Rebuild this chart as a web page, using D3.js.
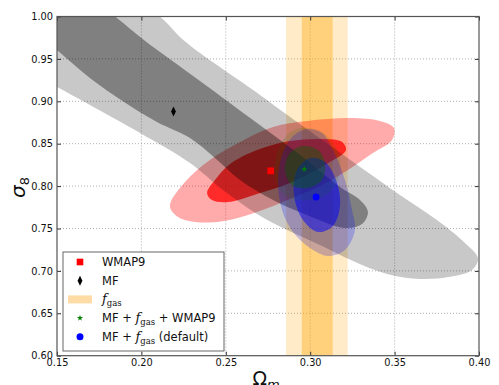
<!DOCTYPE html>
<html>
<head>
<meta charset="utf-8">
<script src="https://cdn.jsdelivr.net/npm/d3@7"></script>
<style>
body { margin: 0; background: #fff; }
text { font-family: "DejaVu Sans", sans-serif; }
</style>
</head>
<body>
<script>
// axis ticks
var xTicks = [0.15, 0.20, 0.25, 0.30, 0.35, 0.40];
var yTicks = [0.60, 0.65, 0.70, 0.75, 0.80, 0.85, 0.90, 0.95, 1.00];

// best fit points [Omega_m, sigma_8]
var wmapBest = [0.2766, 0.818];
var mfBest = [0.219, 0.888];
var comboBest = [0.2965, 0.820];
var defaultBest = [0.3035, 0.787];

// f_gas constraint on Omega_m
var fgas1 = [0.295, 0.3133];
var fgas2 = [0.2857, 0.3222];

// contour outlines [Omega_m, sigma_8]
var mfOuter = [[0.100, 1.170], [0.150, 1.088], [0.211, 1.000], [0.225, 0.972], [0.2685, 0.910], [0.2863, 0.884],
    [0.3236, 0.831], [0.3514, 0.792], [0.3751, 0.760], [0.3917, 0.733], [0.3994, 0.715], [0.3959, 0.701],
    [0.3828, 0.693], [0.3650, 0.6905], [0.3455, 0.6964], [0.3254, 0.7117], [0.3058, 0.7306], [0.2863, 0.7483],
    [0.2685, 0.7671], [0.2483, 0.7954], [0.2288, 0.8272], [0.1992, 0.8626], [0.1695, 0.8956], [0.150, 0.9169],
    [0.122, 0.9463], [0.090, 0.990]];
var mfInner = [[0.100, 1.120], [0.128, 1.084], [0.1844, 1.000], [0.2015, 0.9723], [0.2347, 0.924], [0.2685, 0.8744],
    [0.2940, 0.8367], [0.3177, 0.7989], [0.3295, 0.7836], [0.3342, 0.7695], [0.3307, 0.7553], [0.3206, 0.7506],
    [0.2981, 0.7659], [0.2780, 0.7836], [0.2584, 0.8072], [0.2436, 0.8331], [0.2288, 0.8567], [0.2092, 0.8756],
    [0.1897, 0.8992], [0.1695, 0.9275], [0.150, 0.9605], [0.128, 0.998], [0.095, 1.05]];
var wmapOuter = [[0.2169, 0.7765], [0.2217, 0.7636], [0.2318, 0.7577], [0.2489, 0.7589], [0.2685, 0.7695],
    [0.2880, 0.7848], [0.3117, 0.8060], [0.3372, 0.8390], [0.3485, 0.8544], [0.3496, 0.8685], [0.3413, 0.8768],
    [0.3236, 0.8803], [0.2981, 0.8768], [0.2780, 0.8697], [0.2584, 0.8520], [0.2406, 0.8308], [0.2258, 0.8048]];
var wmapInner = [[0.2389, 0.7919], [0.2436, 0.8072], [0.2525, 0.8261], [0.2685, 0.8426], [0.2880, 0.8532],
    [0.3076, 0.8555], [0.3189, 0.8520], [0.3212, 0.8426], [0.3117, 0.8284], [0.2880, 0.8036], [0.2685, 0.7907],
    [0.2513, 0.7812], [0.2418, 0.7836]];
var defaultOuter = [[0.2981, 0.8673], [0.3070, 0.8626], [0.3135, 0.8426], [0.3206, 0.8072], [0.3248, 0.7718],
    [0.3265, 0.7482], [0.3206, 0.7247], [0.3105, 0.7176], [0.2999, 0.7270], [0.2898, 0.7459], [0.2833, 0.7718],
    [0.2809, 0.8048], [0.2833, 0.8367], [0.2892, 0.8579]];
var defaultInner = [[0.2999, 0.8331], [0.3088, 0.8284], [0.3153, 0.8072], [0.3177, 0.7777], [0.3135, 0.7530],
    [0.3046, 0.7459], [0.2957, 0.7600], [0.2904, 0.7895], [0.2922, 0.8190]];
var comboOuter = [[0.2940, 0.8685], [0.3070, 0.8638], [0.3159, 0.8426], [0.3177, 0.8167], [0.3117, 0.7931],
    [0.2999, 0.7836], [0.2863, 0.7871], [0.2792, 0.8096], [0.2810, 0.8426], [0.2857, 0.8591]];
var comboInner = [[0.2957, 0.8473], [0.3046, 0.8426], [0.3088, 0.8272], [0.3070, 0.8072], [0.2987, 0.7978],
    [0.2892, 0.8013], [0.2851, 0.8190], [0.2880, 0.8390]];

var legendLabels = ["WMAP9", "MF", "fgas", "MF + fgas + WMAP9", "MF + fgas (default)"];

var width = 499;
var height = 385;
var padding = { top: 16.5, right: 20, bottom: 29.3, left: 57 };
var plotW = width - padding.left - padding.right;
var plotH = height - padding.top - padding.bottom;

var svg = d3.select("body").append("svg")
    .attr("width", width)
    .attr("height", height);

var xScale = d3.scaleLinear().domain([0.15, 0.40]).range([0, plotW]);
var yScale = d3.scaleLinear().domain([0.60, 1.00]).range([plotH, 0]);

svg.append("defs").append("clipPath").attr("id", "plotClip")
    .append("rect").attr("width", plotW).attr("height", plotH);

var plot = svg.append("g")
    .attr("transform", "translate(" + padding.left + "," + padding.top + ")");

var grid = plot.append("g");
grid.selectAll(".gx").data(xTicks.slice(1, -1)).enter().append("line")
    .attr("x1", function(d) { return xScale(d); })
    .attr("x2", function(d) { return xScale(d); })
    .attr("y1", 0).attr("y2", plotH);
grid.selectAll(".gy").data(yTicks.slice(1, -1)).enter().append("line")
    .attr("y1", function(d) { return yScale(d); })
    .attr("y2", function(d) { return yScale(d); })
    .attr("x1", 0).attr("x2", plotW);
grid.selectAll("line")
    .attr("stroke", "#999")
    .attr("stroke-width", 0.8)
    .attr("stroke-dasharray", "1,2");

var layer = plot.append("g").attr("clip-path", "url(#plotClip)");

// f_gas bands
function band(r, op) {
    layer.append("rect")
        .attr("x", xScale(r[0]))
        .attr("width", xScale(r[1]) - xScale(r[0]))
        .attr("y", 0)
        .attr("height", plotH)
        .attr("fill", "#ffa500")
        .attr("fill-opacity", op);
}
band(fgas2, 0.22);
band(fgas1, 0.37);

var line = d3.line()
    .x(function(d) { return xScale(d[0]); })
    .y(function(d) { return yScale(d[1]); })
    .curve(d3.curveCatmullRomClosed.alpha(0.5));

function contour(pts, color, op) {
    layer.append("path")
        .attr("d", line(pts))
        .attr("fill", color)
        .attr("fill-opacity", op);
}
contour(wmapOuter, "#ff0000", 0.33);
contour(wmapInner, "#ff0000", 0.75);
contour(mfOuter, "#000000", 0.215);
contour(mfInner, "#000000", 0.36);
contour(defaultOuter, "#0000ff", 0.22);
contour(defaultInner, "#0000ff", 0.5);
contour(comboOuter, "#008000", 0.12);
contour(comboInner, "#006400", 0.4);

// markers
var diamond = "M0,-5L2.4,0L0,5L-2.4,0Z";
function marker(g, type, color) {
    if (type == "square") {
        g.append("path").attr("d", d3.symbol(d3.symbolSquare, 44)()).attr("fill", color);
    } else if (type == "diamond") {
        g.append("path").attr("d", diamond).attr("fill", color);
    } else if (type == "star") {
        g.append("path").attr("d", d3.symbol(d3.symbolStar, 12)()).attr("fill", color);
    } else if (type == "circle") {
        g.append("circle").attr("r", 3.5).attr("fill", color);
    }
}
var bestPoints = [[wmapBest, "square", "#ff0000"], [mfBest, "diamond", "#000"],
    [comboBest, "star", "#008000"], [defaultBest, "circle", "#0000ff"]];
bestPoints.forEach(function(p) {
    var g = layer.append("g")
        .attr("transform", "translate(" + xScale(p[0][0]) + "," + yScale(p[0][1]) + ")");
    marker(g, p[1], p[2]);
});

// axes with inward ticks on all sides
var xAxis = d3.axisBottom(xScale).tickValues(xTicks).tickFormat(d3.format(".2f")).tickSize(-4).tickPadding(3.5);
var yAxis = d3.axisLeft(yScale).tickValues(yTicks).tickFormat(d3.format(".2f")).tickSize(-4).tickPadding(4);
var xAxisG = plot.append("g").attr("transform", "translate(0," + plotH + ")").call(xAxis);
var yAxisG = plot.append("g").call(yAxis);
var xTopG = plot.append("g").call(d3.axisTop(xScale).tickValues(xTicks).tickSize(-4).tickFormat(""));
var yRightG = plot.append("g").attr("transform", "translate(" + plotW + ",0)")
    .call(d3.axisRight(yScale).tickValues(yTicks).tickSize(-4).tickFormat(""));
[xAxisG, yAxisG, xTopG, yRightG].forEach(function(g) {
    g.select(".domain").remove();
    g.selectAll("line").attr("stroke", "#333");
    g.selectAll("text").attr("font-size", 9.8).attr("fill", "#111").attr("font-family", "DejaVu Sans");
});

plot.append("rect")
    .attr("width", plotW).attr("height", plotH)
    .attr("fill", "none").attr("stroke", "#555").attr("stroke-width", 1.2);

// axis titles
var yTitle = svg.append("text")
    .attr("transform", "translate(25,187.5) rotate(-90)")
    .attr("text-anchor", "middle")
    .attr("font-family", "DejaVu Serif")
    .attr("fill", "#111");
yTitle.append("tspan").attr("font-size", 20).attr("font-style", "italic").text("σ");
yTitle.append("tspan").attr("font-size", 13).attr("dy", 4).text("8");

var xTitle = svg.append("text")
    .attr("x", 266).attr("y", 385)
    .attr("text-anchor", "middle")
    .attr("font-family", "DejaVu Serif")
    .attr("fill", "#111");
xTitle.append("tspan").attr("font-size", 19).text("Ω");
xTitle.append("tspan").attr("font-size", 13).attr("font-style", "italic").attr("dy", 4).text("m");

// legend
var legend = svg.append("g").attr("transform", "translate(63,252)");
legend.append("rect")
    .attr("width", 161).attr("height", 99)
    .attr("fill", "#fff").attr("stroke", "#666").attr("stroke-width", 1);

var legendMarks = ["square", "diamond", "patch", "star", "circle"];
var legendColors = ["#ff0000", "#000", "#ffdca5", "#008000", "#0000ff"];

function fgasText(t, before, after) {
    t.append("tspan").text(before);
    t.append("tspan").attr("font-family", "DejaVu Serif").attr("font-style", "italic").attr("font-size", 13).text("f");
    t.append("tspan").attr("font-family", "DejaVu Serif").attr("font-size", 8.5).attr("dy", 3).text("gas");
    if (after) t.append("tspan").attr("dy", -3).text(after);
}

legendLabels.forEach(function(label, i) {
    var cy = 10 + i * 18.7;
    var mg = legend.append("g").attr("transform", "translate(17," + cy + ")");
    if (legendMarks[i] == "patch") {
        mg.append("rect").attr("x", -12).attr("y", -4).attr("width", 24).attr("height", 8).attr("fill", legendColors[i]);
    } else {
        marker(mg, legendMarks[i], legendColors[i]);
    }
    var t = legend.append("text")
        .attr("x", 39).attr("y", cy + 4)
        .attr("font-size", 11.5)
        .attr("fill", "#111");
    if (label == "fgas") {
        fgasText(t, "", "");
    } else if (label.indexOf("fgas") >= 0) {
        var parts = label.split("fgas");
        fgasText(t, parts[0], parts[1]);
    } else {
        t.text(label);
    }
});
</script>
</body>
</html>
